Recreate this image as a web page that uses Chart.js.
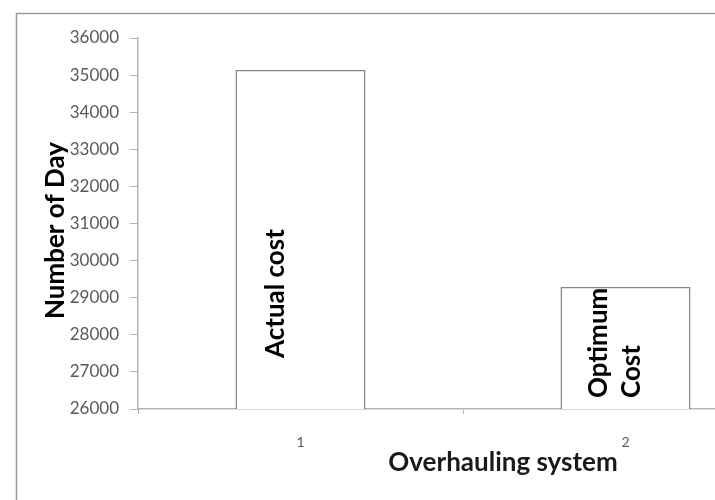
<!DOCTYPE html>
<html>
<head>
<meta charset="utf-8">
<script src="https://cdn.jsdelivr.net/npm/chart.js@4/dist/chart.umd.min.js"></script>
<style>
  html, body { margin: 0; padding: 0; background: #ffffff; }
  #wrap { width: 715px; height: 500px; overflow: hidden; position: relative; }
  canvas { display: block; }
</style>
</head>
<body>
<div id="wrap"><canvas id="c" width="800" height="500"></canvas></div>
<script>
// Overhauling system comparison: actual vs optimum
const categories = ['1', '2'];
const dayValues = [35140, 29290];
const barLabels = [['Actual cost'], ['Optimum', 'Cost']];
const yTicksMin = 26000;
const yTicksMax = 36000;
const yTickStep = 1000;
const xAxisTitle = 'Overhauling system';
const yAxisTitle = 'Number of Day';

const AXIS_GRAY = '#b4b4b4';
const BAR_GRAY = '#858585';
const TEXT_GRAY = '#595959';
const FONT = 'Lato, "Open Sans", sans-serif';

// placement of the rotated labels inside each bar (relative to bar centre / axis baseline)
const labelPlacement = [
  { dx: -25, lift: 51, lineGap: 0 },
  { dx: -27, lift: 11, lineGap: 33 }
];

const frame = {
  id: 'frame',
  beforeDraw(chart) {
    const ctx = chart.ctx;
    ctx.save();
    ctx.fillStyle = '#ffffff';
    ctx.fillRect(0, 0, chart.width, chart.height);
    ctx.strokeStyle = '#9a9a9a';
    ctx.lineWidth = 1.5;
    ctx.strokeRect(16.5, 13.5, 900, 600);
    ctx.restore();
  }
};

const barText = {
  id: 'barText',
  afterDatasetsDraw(chart) {
    const ctx = chart.ctx;
    const meta = chart.getDatasetMeta(0);
    const baseY = chart.chartArea.bottom;
    ctx.save();
    ctx.fillStyle = '#000000';
    ctx.font = 'bold 26px ' + FONT;
    ctx.textAlign = 'left';
    ctx.textBaseline = 'middle';
    meta.data.forEach((bar, i) => {
      const p = labelPlacement[i];
      const cx = bar.getProps(['x'], true).x;
      barLabels[i].forEach((line, j) => {
        ctx.save();
        ctx.translate(cx + p.dx + j * p.lineGap, baseY - p.lift);
        ctx.rotate(-Math.PI / 2);
        ctx.fillText(line, 0, 0);
        ctx.restore();
      });
    });
    ctx.restore();
  }
};

// axis titles: y title sits a little below the plot's mid-height, x title right of centre
const axisTitles = {
  id: 'axisTitles',
  afterDraw(chart) {
    const ctx = chart.ctx;
    const a = chart.chartArea;
    ctx.save();
    ctx.font = 'bold 26px ' + FONT;
    ctx.textAlign = 'center';
    ctx.textBaseline = 'middle';
    ctx.fillStyle = '#1a1a1a';
    ctx.fillText(xAxisTitle, a.left + 365, a.bottom + 54);
    ctx.fillStyle = '#000000';
    ctx.translate(56, (a.top + a.bottom) / 2 + 7);
    ctx.rotate(-Math.PI / 2);
    ctx.fillText(yAxisTitle, 0, 0);
    ctx.restore();
  }
};

new Chart(document.getElementById('c'), {
  type: 'bar',
  data: {
    labels: categories,
    datasets: [{
      data: dayValues,
      backgroundColor: '#ffffff',
      borderColor: BAR_GRAY,
      borderWidth: 1.5,
      categoryPercentage: 0.8,
      barPercentage: 0.5
    }]
  },
  options: {
    responsive: false,
    animation: false,
    devicePixelRatio: 1,
    layout: { padding: { top: 38, right: 12, left: 0, bottom: 0 } },
    plugins: { legend: { display: false }, tooltip: { enabled: false } },
    scales: {
      x: {
        afterFit(scale) { scale.height = 91; },
        grid: { drawOnChartArea: false, drawTicks: true, tickLength: 5, color: AXIS_GRAY, offset: true },
        border: { display: true, color: AXIS_GRAY, width: 1.5 },
        ticks: { color: TEXT_GRAY, font: { family: FONT, size: 14 }, padding: 20 }
      },
      y: {
        min: yTicksMin,
        max: yTicksMax,
        afterFit(scale) { scale.width = 138; },
        grid: { drawOnChartArea: false, drawTicks: true, tickLength: 8, color: AXIS_GRAY },
        border: { display: true, color: AXIS_GRAY, width: 1.5 },
        ticks: {
          stepSize: yTickStep,
          color: TEXT_GRAY,
          font: { family: FONT, size: 17 },
          padding: 11,
          callback: (v) => String(v)
        }
      }
    }
  },
  plugins: [frame, barText, axisTitles]
});
</script>
</body>
</html>
